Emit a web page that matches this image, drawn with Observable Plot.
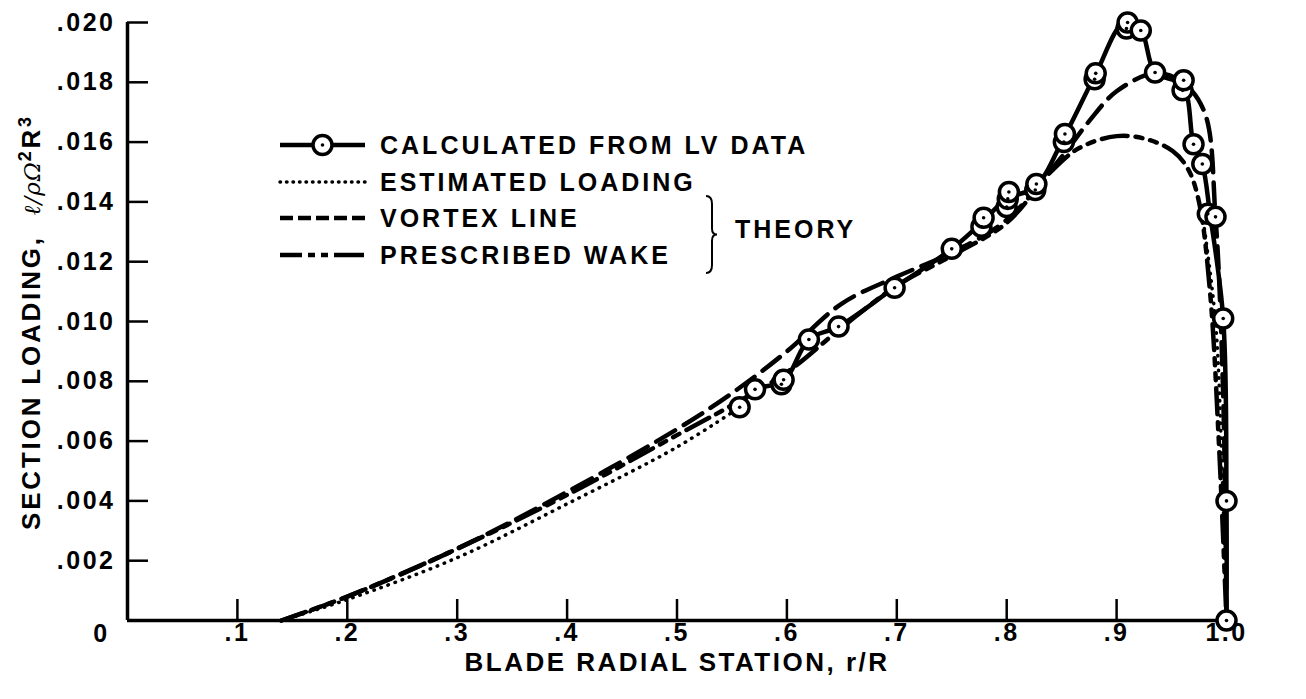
<!DOCTYPE html>
<html><head><meta charset="utf-8">
<script src="https://cdn.jsdelivr.net/npm/d3@7"></script>
<script src="https://cdn.jsdelivr.net/npm/@observablehq/plot@0.6"></script>
<style>
body{margin:0;background:#fff;}
#wrap{position:relative;width:1306px;height:699px;font-family:"Liberation Sans",Arial,sans-serif;font-weight:bold;color:#000;}
#ylab{position:absolute;left:31px;top:322px;transform:translate(-50%,-50%) rotate(-90deg);white-space:nowrap;font-size:26px;letter-spacing:2.8px;}
#ylab i{font-weight:normal;font-family:"DejaVu Serif",serif;font-size:23px;letter-spacing:1px;}
#ylab sup{font-size:18px;}
#legend{position:absolute;left:0;top:0;pointer-events:none;}
</style></head><body><div id="wrap"><div id="ylab">SECTION LOADING,&nbsp; <i>ℓ/ρΩ</i><sup>2</sup>R<sup>3</sup></div></div>
<script>
// ---- data ----
// measured points (circles)
const calcX = [0.557,0.571,0.595,0.597,0.620,0.647,0.698,0.750,0.777,0.779,0.800,0.801,0.802,0.826,0.827,0.852,0.853,0.880,0.881,0.909,0.910,0.922,0.935,0.960,0.961,0.970,0.978,0.983,0.990,0.997,1.000,1.000];
const calcY = [0.00713,0.00773,0.00790,0.00805,0.00940,0.00983,0.01113,0.01243,0.01317,0.01347,0.01383,0.01410,0.01433,0.01440,0.01460,0.01600,0.01627,0.01810,0.01830,0.01980,0.02000,0.01973,0.01833,0.01773,0.01807,0.01593,0.01527,0.01360,0.01350,0.01010,0.00400,0.00000];
// faired line through the measured points
const fairX = [0.557,0.571,0.597,0.620,0.647,0.698,0.750,0.777,0.800,0.826,0.852,0.880,0.907,0.922,0.935,0.960,0.970,0.978,0.985,0.997,1.000,1.000];
const fairY = [0.00713,0.00773,0.00800,0.00940,0.00983,0.01113,0.01243,0.01330,0.01410,0.01450,0.01615,0.01820,0.02000,0.01975,0.01833,0.01790,0.01593,0.01527,0.01360,0.01010,0.00400,0.00000];
// estimated loading (dotted)
const estX = [0.14,0.20,0.30,0.40,0.50,0.557];
const estY = [0.0000,0.0007,0.0021,0.0039,0.0058,0.00713];
const estTipX = [0.978,0.990,0.996,1.000];
const estTipY = [0.01360,0.01000,0.00500,0.00000];
// vortex line theory (dashed)
const vortX = [0.14,0.20,0.30,0.40,0.50,0.55,0.60,0.65,0.70,0.75,0.80,0.85,0.875,0.90,0.935,0.96,0.98,0.99,0.997,1.000];
const vortY = [0.0000,0.0008,0.0024,0.0043,0.0064,0.0076,0.0090,0.0106,0.0115,0.0123,0.0134,0.0155,0.0167,0.0177,0.0183,0.0180,0.0170,0.0135,0.0075,0.0000];
// prescribed wake theory (long-short dashes)
const wakeX = [0.14,0.20,0.30,0.40,0.50,0.55,0.60,0.65,0.70,0.75,0.80,0.84,0.866,0.90,0.927,0.951,0.965,0.975,0.985,0.993,1.000];
const wakeY = [0.0000,0.0008,0.0024,0.0042,0.0062,0.0072,0.0083,0.0098,0.0112,0.0122,0.0133,0.0150,0.0158,0.0162,0.0161,0.0157,0.0151,0.0140,0.0110,0.0060,0.0000];
// axis ticks
const xTicks = [0.1,0.2,0.3,0.4,0.5,0.6,0.7,0.8,0.9,1.0];
const xTickLabels = [".1",".2",".3",".4",".5",".6",".7",".8",".9","1.0"];
const yTicks = [0.002,0.004,0.006,0.008,0.010,0.012,0.014,0.016,0.018,0.020];
const yTickLabels = [".002",".004",".006",".008",".010",".012",".014",".016",".018",".020"];
// legend
const legendLabels = ["CALCULATED FROM LV DATA","ESTIMATED LOADING","VORTEX LINE","PRESCRIBED WAKE"];

const zip = (xs, ys) => xs.map((x, i) => ({x, y: ys[i]}));
const calc = zip(calcX, calcY), fair = zip(fairX, fairY), est = zip(estX, estY),
      estTip = zip(estTipX, estTipY), vort = zip(vortX, vortY), wake = zip(wakeX, wakeY);

const W = 1306, H = 699;
const M = {left: 127, right: 80, top: 22, bottom: 79};
const tickPx = 21;
const xUnitPx = (W - M.left - M.right) / 1.0;
const yUnitPx = (H - M.top - M.bottom) / 0.020;
const FONT = "Liberation Sans, Arial, sans-serif";

const chart = Plot.plot({
  width: W, height: H,
  marginLeft: M.left, marginRight: M.right, marginTop: M.top, marginBottom: M.bottom,
  x: {domain: [0, 1.0]},
  y: {domain: [0, 0.020]},
  style: {fontFamily: FONT, fontWeight: "bold", fontSize: "25px", letterSpacing: "2.5px", color: "#000", background: "#fff"},
  marks: [
    Plot.axisY(yTicks, {tickSize: 0, tickPadding: 12, tickFormat: (d, i) => yTickLabels[i], label: null}),
    Plot.axisX(xTicks, {tickSize: 0, tickPadding: 3, tickFormat: (d, i) => xTickLabels[i], label: null}),
    Plot.text(["0"], {x: 0, y: 0, dx: -26, dy: 13}),
    Plot.text(["BLADE RADIAL STATION, r/R"], {frameAnchor: "bottom", dy: 50, fontSize: 26, letterSpacing: "5.5px"}),
    Plot.ruleY(yTicks, {x1: 0, x2: tickPx / xUnitPx, strokeWidth: 2.5}),
    Plot.ruleX(xTicks, {y1: 0, y2: tickPx / yUnitPx, strokeWidth: 2.5}),
    Plot.ruleX([0], {y1: 0, y2: 0.020, strokeWidth: 3.5}),
    Plot.ruleY([0], {x1: 0, x2: 1.0, strokeWidth: 3.5}),
    Plot.line(est, {x: "x", y: "y", curve: "catmull-rom", strokeWidth: 3.5, strokeDasharray: "0.5,7", strokeLinecap: "round"}),
    Plot.line(estTip, {x: "x", y: "y", curve: "catmull-rom", strokeWidth: 3.5, strokeDasharray: "0.5,7", strokeLinecap: "round"}),
    Plot.line(vort, {x: "x", y: "y", curve: "catmull-rom", strokeWidth: 4.5, strokeDasharray: "22,10"}),
    Plot.line(wake, {x: "x", y: "y", curve: "catmull-rom", strokeWidth: 4.5, strokeDasharray: "26,8,7,8,7,8"}),
    Plot.line(fair, {x: "x", y: "y", curve: "catmull-rom", strokeWidth: 4.5}),
    Plot.dot(calc, {x: "x", y: "y", r: 9.5, fill: "white", stroke: "black", strokeWidth: 3.5}),
    Plot.dot(calc, {x: "x", y: "y", r: 1.8, fill: "black", stroke: "none"})
  ]
});
document.getElementById("wrap").appendChild(chart);

// legend overlay
const lg = d3.select("#wrap").append("svg").attr("id", "legend").attr("width", W).attr("height", H);
const rowsY = [145, 182, 218, 255];
const sx0 = 280, sx1 = 365, tx = 380;
const dashes = [null, "0.5,6", "13,5", "22,6,7,6,7,6,30"];
const widths = [4.5, 3.5, 4.5, 4.5];
rowsY.forEach((ry, i) => {
  lg.append("line").attr("x1", sx0).attr("x2", sx1).attr("y1", ry).attr("y2", ry)
    .attr("stroke", "black").attr("stroke-width", widths[i])
    .attr("stroke-dasharray", dashes[i]).attr("stroke-linecap", i === 1 ? "round" : "butt");
  lg.append("text").attr("x", tx).attr("y", ry).attr("dy", "0.36em")
    .attr("font-family", FONT).attr("font-weight", "bold").attr("font-size", 25).attr("letter-spacing", "3px")
    .text(legendLabels[i]);
});
lg.append("circle").attr("cx", (sx0 + sx1) / 2).attr("cy", rowsY[0]).attr("r", 9.5)
  .attr("fill", "white").attr("stroke", "black").attr("stroke-width", 3.5);
lg.append("circle").attr("cx", (sx0 + sx1) / 2).attr("cy", rowsY[0]).attr("r", 1.8).attr("fill", "black");
// brace for THEORY
const bx = 706, by0 = rowsY[2] - 22, by1 = rowsY[3] + 18, bm = (by0 + by1) / 2;
lg.append("path").attr("fill", "none").attr("stroke", "black").attr("stroke-width", 2)
  .attr("d", `M${bx},${by0} q6,0 6,8 V${bm - 6} q0,6 5,6 q-5,0 -5,6 V${by1 - 8} q0,8 -6,8`);
lg.append("text").attr("x", 735).attr("y", (rowsY[2] + rowsY[3]) / 2 - 8).attr("dy", "0.36em")
  .attr("font-family", FONT).attr("font-weight", "bold").attr("font-size", 25).attr("letter-spacing", "3px")
  .text("THEORY");
</script></body></html>
